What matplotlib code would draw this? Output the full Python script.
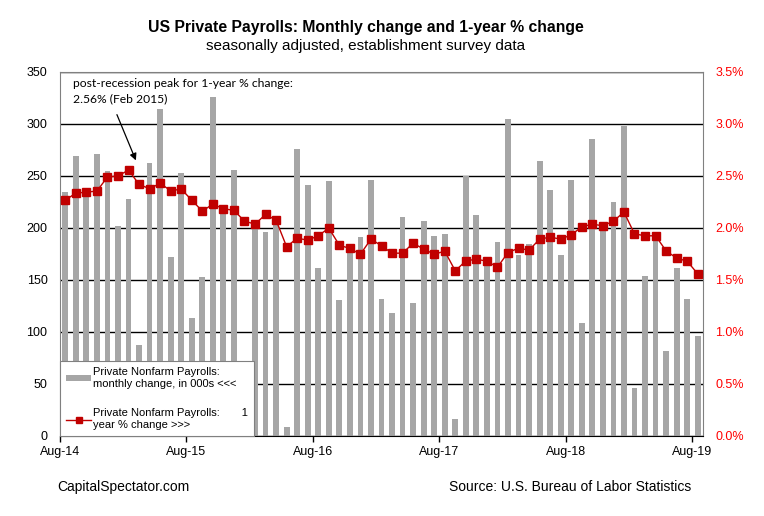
import matplotlib
matplotlib.use("Agg")
import matplotlib.pyplot as plt
from matplotlib.patches import Patch
from matplotlib.lines import Line2D

# monthly change in private payrolls, 000s (Aug-14 .. Aug-19)
payrolls = [234.5, 269, 238.7, 271, 254.7, 202, 227.8, 87.3, 262.4, 314.4, 172, 252.8,
            113.6, 153, 326, 214, 256, 60, 205, 196, 208, 8.3, 276, 241,
            162, 245, 131, 184.8, 191, 246, 131.5, 118, 210.5, 127.7, 206.6, 192,
            194, 16, 250, 212.4, 168, 186.4, 304.8, 174, 184.5, 264.7, 236.4, 174,
            246, 108.4, 285.5, 200, 225, 298, 45.9, 153.7, 190, 81.5, 161.4, 131.8,
            96]
# 1-year % change
yoy = [2.268, 2.335, 2.345, 2.355, 2.49, 2.50, 2.557, 2.42, 2.377, 2.43, 2.358, 2.374,
       2.268, 2.162, 2.23, 2.185, 2.17, 2.066, 2.037, 2.13, 2.075, 1.82, 1.902, 1.883,
       1.925, 1.999, 1.835, 1.803, 1.748, 1.893, 1.829, 1.758, 1.758, 1.854, 1.797, 1.748,
       1.777, 1.588, 1.684, 1.70, 1.681, 1.623, 1.764, 1.806, 1.787, 1.893, 1.912, 1.893,
       1.934, 2.011, 2.037, 2.021, 2.066, 2.153, 1.944, 1.925, 1.925, 1.78, 1.71, 1.681,
       1.559]
tick_labels = ["Aug-14", "Aug-15", "Aug-16", "Aug-17", "Aug-18", "Aug-19"]

plt.rcParams["font.family"] = ["Liberation Sans", "DejaVu Sans"]

BAR = "#a6a6a6"
LINE = "#c00000"
RED = "#ff0000"

fig = plt.figure(figsize=(7.64, 5.16), dpi=100)
ax = fig.add_axes([60 / 764, 80 / 516, 643 / 764, 364 / 516])
x = list(range(len(payrolls)))

ax.bar(x, payrolls, width=0.55, color=BAR, zorder=2)
ax.set_xlim(-0.5, len(x) - 0.5)
ax.set_ylim(0, 350)
ax.set_yticks(range(0, 351, 50))
ax.yaxis.grid(True, color="black", linewidth=1, zorder=1)
ax.set_axisbelow(True)
ax.set_xticks([i * 12 - 0.5 for i in range(len(tick_labels))])
ax.set_xticklabels(tick_labels, fontsize=9)
ax.tick_params(axis="x", length=4, width=1, color="black", pad=3)
ax.tick_params(axis="y", length=0, pad=9, labelsize=9)
for side in ["top", "right", "left"]:
    ax.spines[side].set_color("#808080")
ax.spines["bottom"].set_color("black")

ax2 = ax.twinx()
ax2.plot(x, yoy, color=LINE, linewidth=1, marker="s", markersize=5.5, zorder=3)
ax2.set_ylim(0, 3.5)
ax2.set_yticks([i * 0.5 for i in range(8)])
ax2.set_yticklabels([f"{i * 0.5:.1f}%" for i in range(8)], color=RED, fontsize=9)
ax2.tick_params(axis="y", length=0, pad=9)
for side in ["top", "right", "left", "bottom"]:
    ax2.spines[side].set_visible(False)

# peak note and its arrow
ax2.text(0.73, 3.44, "post-recession peak for 1-year % change:\n2.56% (Feb 2015)",
         fontsize=8.7, family=["Lato", "DejaVu Sans"], va="top", linespacing=1.5)
ax2.annotate("", xy=(6.7, 2.65), xytext=(4.9, 3.09),
             arrowprops=dict(arrowstyle="-|>", color="black", lw=0.9,
                             shrinkA=0, shrinkB=0, mutation_scale=10))

handles = [Patch(facecolor=BAR, edgecolor="none"),
           Line2D([], [], color=LINE, marker="s", markersize=5, linewidth=1)]
labels = ["Private Nonfarm Payrolls:\nmonthly change, in 000s <<<",
          "Private Nonfarm Payrolls:       1\nyear % change >>>"]
leg = ax2.legend(handles, labels, loc="lower left", bbox_to_anchor=(0.0, 0.0),
                 fontsize=8, frameon=True, fancybox=False, edgecolor="#808080",
                 framealpha=1, borderpad=0.55, labelspacing=1.75, handlelength=2.25,
                 handleheight=0.5, handletextpad=0.18, borderaxespad=0.0)
leg.get_frame().set_linewidth(0.8)
leg.set_zorder(10)

fig.text(0.479, 0.947, "US Private Payrolls: Monthly change and 1-year % change",
         ha="center", va="center", fontsize=11.3, fontweight="bold")
fig.text(0.478, 0.911, "seasonally adjusted, establishment survey data",
         ha="center", va="center", fontsize=11)
fig.text(57 / 764, 1 - 487 / 516, "CapitalSpectator.com", ha="left", va="center", fontsize=10)
fig.text(691 / 764, 1 - 487 / 516, "Source: U.S. Bureau of Labor Statistics",
         ha="right", va="center", fontsize=10)

fig.savefig("out.png", dpi=100)
